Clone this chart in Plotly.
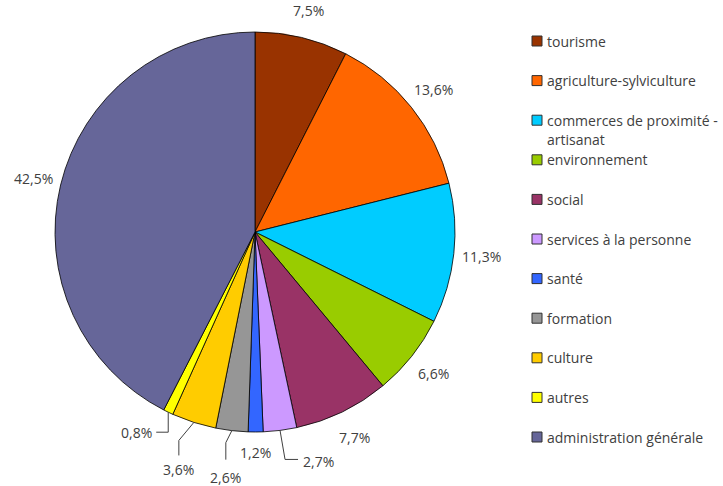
import math
import plotly.graph_objects as go

# Budget share by domain (%)
categories = [
    "tourisme",
    "agriculture-sylviculture",
    "commerces de proximité -\nartisanat",
    "environnement",
    "social",
    "services à la personne",
    "santé",
    "formation",
    "culture",
    "autres",
    "administration générale",
]
shares = [7.5, 13.6, 11.3, 6.6, 7.7, 2.7, 1.2, 2.6, 3.6, 0.8, 42.5]
colors = ["#993300", "#FF6600", "#00CCFF", "#99CC00", "#993366", "#CC99FF",
          "#3366FF", "#969696", "#FFCC00", "#FFFF00", "#666699"]

W, H = 723, 486
CX, CY, R = 255, 232, 200          # pie centre / radius in pixels
TEXT_COLOR = "#404040"
FONT = "Open Sans"
FSIZE = 14


def px(x):
    return x / W


def py(y):
    return 1 - y / H


def fmt(v):
    return f"{v:.1f}".replace(".", ",") + "%"


fig = go.Figure(go.Pie(
    labels=[c.replace("\n", " ") for c in categories],
    values=shares,
    sort=False,
    direction="clockwise",
    rotation=0,
    textinfo="none",
    hoverinfo="label+percent",
    showlegend=False,
    marker=dict(colors=colors, line=dict(color="#000000", width=0.8)),
    domain=dict(x=[px(CX - R), px(CX + R)], y=[py(CY + R), py(CY - R)]),
))

# Label placement: (kind, params) per slice; leaders are offsets from the arc midpoint
label_style = {
    5: ("leader", [(5, 29), (18, 29)], "left", (21, 31)),
    6: ("radial", 221),
    7: ("leader", [(-6, 12), (-6, 29)], "center", (-6, 47)),
    8: ("leader", [(-15, 18), (-15, 33)], "center", (-15, 47)),
    9: ("leader", [(0, 20), (-12, 20)], "right", (-14, 20)),
}

annotations = []
shapes = []
total = sum(shares)
cum = 0.0
for i, v in enumerate(shares):
    mid = (cum + v / 2) / total * 2 * math.pi
    cum += v
    sx, sy = math.sin(mid), -math.cos(mid)
    style = label_style.get(i, ("radial", 228))
    if style[0] == "radial":
        r = style[1]
        lx, ly = CX + r * sx, CY + r * sy
        annotations.append(dict(x=px(lx), y=py(ly), xref="paper", yref="paper",
                                text=fmt(v), showarrow=False, xanchor="center",
                                yanchor="middle",
                                font=dict(family=FONT, size=FSIZE, color=TEXT_COLOR)))
    else:
        _, pts, anchor, (ox, oy) = style
        p0x, p0y = CX + R * sx, CY + R * sy
        path = [(p0x, p0y)] + [(p0x + dx, p0y + dy) for dx, dy in pts]
        d = "M " + " L ".join(f"{px(a)},{py(b)}" for a, b in path)
        shapes.append(dict(type="path", path=d, xref="paper", yref="paper",
                           line=dict(color="#404040", width=1)))
        annotations.append(dict(x=px(p0x + ox), y=py(p0y + oy), xref="paper",
                                yref="paper", text=fmt(v), showarrow=False,
                                xanchor=anchor, yanchor="middle",
                                font=dict(family=FONT, size=FSIZE, color=TEXT_COLOR)))

# Legend drawn on the right
LEG_X, LEG_Y0, LEG_STEP, LINE_H = 532, 41, 39.6, 19.5
for i, (name, col) in enumerate(zip(categories, colors)):
    yc = LEG_Y0 + i * LEG_STEP
    shapes.append(dict(type="rect", xref="paper", yref="paper",
                       x0=px(LEG_X), x1=px(LEG_X + 10), y0=py(yc - 5), y1=py(yc + 5),
                       fillcolor=col, line=dict(color="#303030", width=1)))
    for j, line in enumerate(name.split("\n")):
        annotations.append(dict(x=px(LEG_X + 13), y=py(yc + j * LINE_H), xref="paper",
                                yref="paper", text=line, showarrow=False,
                                xanchor="left", yanchor="middle",
                                font=dict(family=FONT, size=FSIZE, color=TEXT_COLOR)))

fig.update_layout(
    width=W, height=H,
    margin=dict(l=0, r=0, t=0, b=0),
    paper_bgcolor="white", plot_bgcolor="white",
    annotations=annotations, shapes=shapes,
)

fig.write_html("out.html")
